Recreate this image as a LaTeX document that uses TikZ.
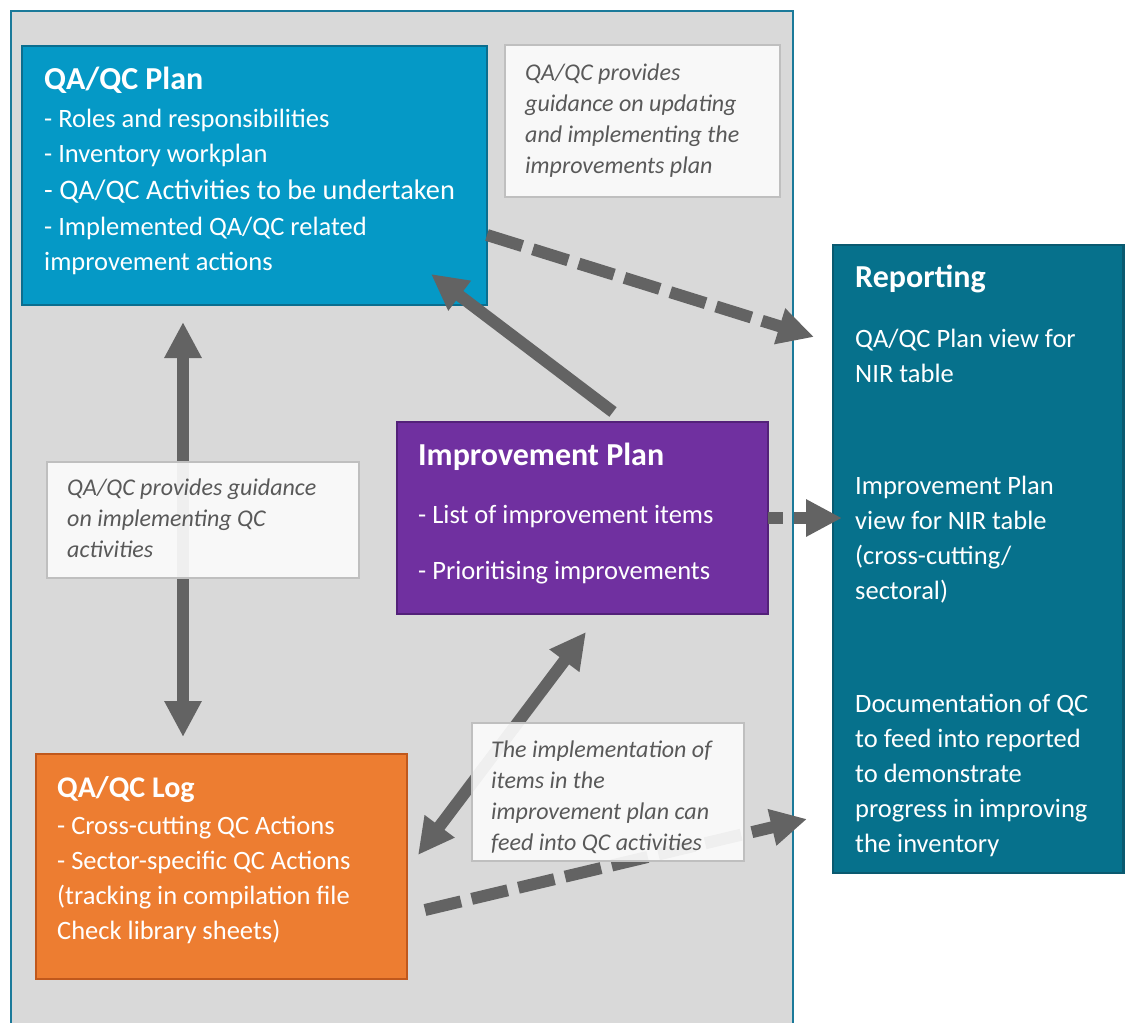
\documentclass[tikz,border=0pt]{standalone}
\usepackage{fontspec}
\setmainfont{Carlito}
\usetikzlibrary{arrows.meta,calc}
\definecolor{panelgray}{HTML}{D9D9D9}
\definecolor{panelborder}{HTML}{1B7A9A}
\definecolor{planblue}{HTML}{0599C6}
\definecolor{planedge}{HTML}{0B6E8F}
\definecolor{repteal}{HTML}{06718C}
\definecolor{repedge}{HTML}{0A5A70}
\definecolor{imppurple}{HTML}{7030A0}
\definecolor{impedge}{HTML}{532179}
\definecolor{logorange}{HTML}{ED7D31}
\definecolor{logedge}{HTML}{C0581C}
\definecolor{arrgray}{HTML}{636363}
\definecolor{notefill}{HTML}{FBFBFB}
\definecolor{noteedge}{HTML}{BFBFBF}
\definecolor{notetext}{HTML}{595959}
\tikzset{
  cbox/.style={rectangle, inner sep=0pt, outer sep=0pt, anchor=north west, line width=2.5pt},
  nbox/.style={rectangle, inner sep=0pt, outer sep=0pt, anchor=north west, draw=noteedge, line width=1.5pt, fill=notefill, fill opacity=0.92},
  btxt/.style={anchor=base west, inner sep=0pt, text=white, font=\fontsize{26.5}{32}\selectfont},
  ttxt/.style={anchor=base west, inner sep=0pt, text=white, font=\bfseries\fontsize{32}{38}\selectfont},
  ntxt/.style={anchor=base west, inner sep=0pt, text=notetext, font=\itshape\fontsize{24}{29}\selectfont},
  garrow/.style={draw=arrgray, line width=12pt},
  gdash/.style={garrow, dash pattern=on 37pt off 11pt},
}
\begin{document}
\begin{tikzpicture}[x=1pt,y=-1pt,>={Triangle[length=36pt,width=35pt]}]
\useasboundingbox (0,0) rectangle (1125,1023);
% background panel
\node[draw=panelborder, fill=panelgray, line width=2pt, rectangle, inner sep=0pt, anchor=north west,
      minimum width=782pt, minimum height=1040pt] (panel) at (10,10) {};
% coloured boxes
\node[cbox, fill=planblue, draw=planedge, minimum width=465pt, minimum height=259pt] (plan) at (22,46) {};
\node[cbox, fill=repteal, draw=repedge, minimum width=290.5pt, minimum height=628pt] (rep) at (833,245) {};
\node[cbox, fill=imppurple, draw=impedge, minimum width=371pt, minimum height=192pt] (imp) at (397,422) {};
\node[cbox, fill=logorange, draw=logedge, minimum width=371pt, minimum height=225pt] (log) at (36,754) {};
% connectors
\draw[garrow, <->] ([xshift=161pt,yshift=-17pt]plan.south west) -- ([xshift=147pt,yshift=17pt]log.north west);
\draw[garrow, ->] ([xshift=216pt,yshift=10pt]imp.north west) -- ([xshift=-56pt,yshift=31pt]plan.south east);
\draw[gdash, ->] ([yshift=-59.5pt]plan.east) -- ([xshift=-19pt,yshift=-92pt]rep.north west);
\draw[gdash, dash phase=22pt, ->] (imp.east) -- ($(rep.west |- imp.east)+(9,0)$);
\draw[garrow, <->] ([xshift=11pt,yshift=-101pt]log.north east) -- ([xshift=189pt,yshift=-18pt]imp.south west);
\draw[gdash, ->] ([xshift=18pt,yshift=-43.5pt]log.east) -- ([xshift=-26pt,yshift=54pt]rep.south west);
% notes
\node[nbox, minimum width=275pt, minimum height=152pt] (note1) at (505,45) {};
\node[nbox, minimum width=312pt, minimum height=116pt] (note2) at (47,462) {};
\node[nbox, minimum width=272pt, minimum height=138pt] (note3) at (472,723) {};
% QA/QC Plan text
\node[ttxt] (plant) at (44,89) {QA/QC Plan};
\node[btxt] (plan1) at (44,127) {- Roles and responsibilities};
\node[btxt] (plan2) at (44,162) {- Inventory workplan};
\node[btxt, font=\fontsize{28.3}{33}\selectfont] (plan3) at (44,199) {- QA/QC Activities to be undertaken};
\node[btxt] (plan4) at (44,235) {- Implemented QA/QC related};
\node[btxt] (plan5) at (44,270) {improvement actions};
% Improvement Plan text
\node[ttxt] (impt) at (418,465) {Improvement Plan};
\node[btxt] (imp1) at (418,523) {- List of improvement items};
\node[btxt] (imp2) at (418,579) {- Prioritising improvements};
% QA/QC Log text
\node[ttxt, font=\bfseries\fontsize{30}{36}\selectfont] (logt) at (57,797) {QA/QC Log};
\node[btxt] (log1) at (57,834) {- Cross-cutting QC Actions};
\node[btxt] (log2) at (57,869) {- Sector-specific QC Actions};
\node[btxt] (log3) at (57,904) {(tracking in compilation file};
\node[btxt] (log4) at (57,939) {Check library sheets)};
% Reporting text
\node[ttxt] (rept) at (855,287) {Reporting};
\node[btxt] (rep1) at (855,347) {QA/QC Plan view for};
\node[btxt] (rep2) at (855,382) {NIR table};
\node[btxt] (rep3) at (855,494) {Improvement Plan};
\node[btxt] (rep4) at (855,529) {view for NIR table};
\node[btxt] (rep5) at (855,564) {(cross-cutting/};
\node[btxt] (rep6) at (855,599) {sectoral)};
\node[btxt] (rep7) at (855,712) {Documentation of QC};
\node[btxt] (rep8) at (855,747) {to feed into reported};
\node[btxt] (rep9) at (855,782) {to demonstrate};
\node[btxt] (rep10) at (855,817) {progress in improving};
\node[btxt] (rep11) at (855,852) {the inventory};
% note texts
\node[ntxt] (n1a) at (525,80) {QA/QC provides};
\node[ntxt] (n1b) at (525,111) {guidance on updating};
\node[ntxt] (n1c) at (525,142) {and implementing the};
\node[ntxt] (n1d) at (525,173) {improvements plan};
\node[ntxt] (n2a) at (67,495) {QA/QC provides guidance};
\node[ntxt] (n2b) at (67,526) {on implementing QC};
\node[ntxt] (n2c) at (67,557) {activities};
\node[ntxt] (n3a) at (491,757) {The implementation of};
\node[ntxt] (n3b) at (491,788) {items in the};
\node[ntxt] (n3c) at (491,819) {improvement plan can};
\node[ntxt] (n3d) at (491,850) {feed into QC activities};
\end{tikzpicture}
\end{document}
